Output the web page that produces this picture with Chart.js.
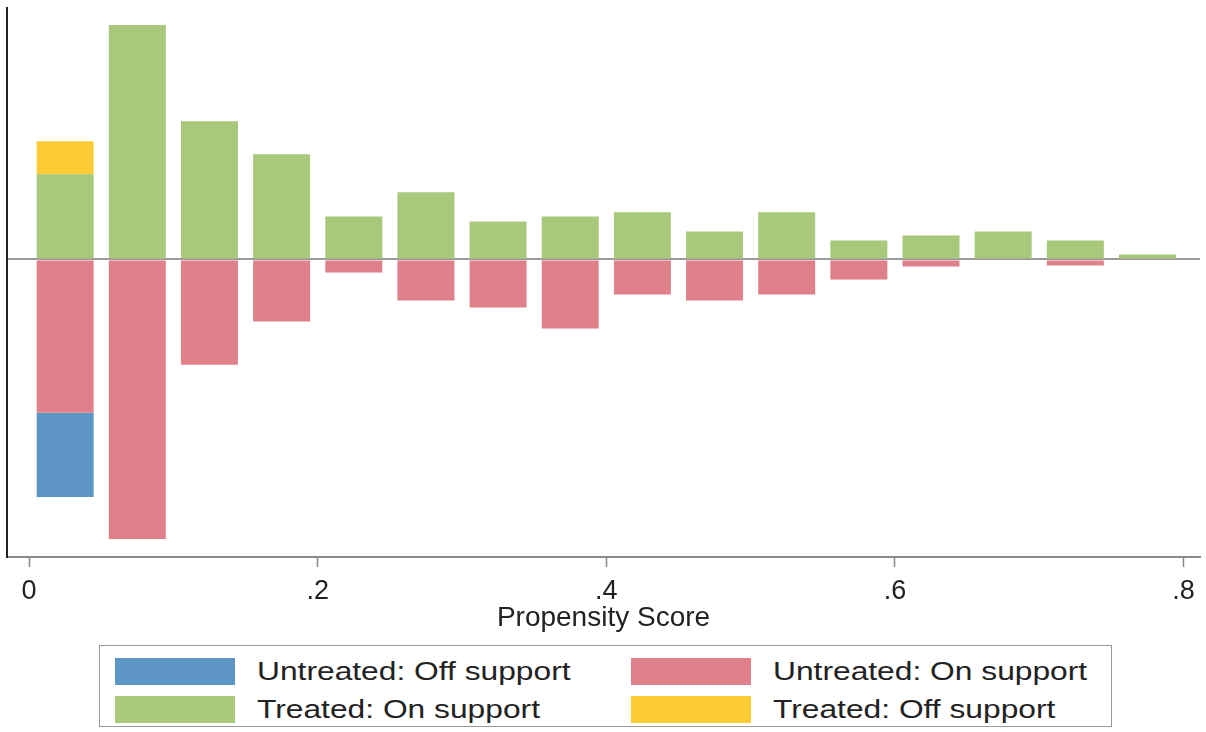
<!DOCTYPE html>
<html>
<head>
<meta charset="utf-8">
<script src="https://cdn.jsdelivr.net/npm/chart.js@4.4.1/dist/chart.umd.min.js"></script>
<style>
  body { margin: 0; background: #fff; font-family: "Liberation Sans", Arial, sans-serif; }
  #wrap { position: relative; width: 1206px; height: 732px; }
  #chartBox { position: absolute; left: 0; top: 0; width: 1206px; height: 648px; }
  #legend { position: absolute; left: 99px; top: 645px; width: 1013px; height: 82px; border: 1px solid #999; box-sizing: border-box; background: #fff; }
  .item { position: absolute; height: 27px; }
  .sw { position: absolute; left: 0; top: 0; width: 120px; height: 27px; }
  .lab { position: absolute; left: 142px; top: -1px; font-size: 25px; line-height: 29px; color: #222; white-space: nowrap; transform: scaleX(1.27); transform-origin: left center; }
</style>
</head>
<body>
<div id="wrap">
  <div id="chartBox"><canvas id="chart"></canvas></div>
  <div id="legend"></div>
</div>
<script>
// bin centres of the propensity score histogram
const binCenters = [0.025, 0.075, 0.125, 0.175, 0.225, 0.275, 0.325, 0.375, 0.425, 0.475, 0.525, 0.575, 0.625, 0.675, 0.725, 0.775];

// heights (arbitrary frequency units), untreated drawn below zero
const untreatedOn  = [153, 279, 105, 62, 13, 41, 48, 69, 35, 41, 35, 20, 7, 1, 6, 0];
const untreatedOff = [84, 0, 0, 0, 0, 0, 0, 0, 0, 0, 0, 0, 0, 0, 0, 0];
const treatedOn    = [85, 234, 138, 105, 43, 67, 38, 43, 47, 28, 47, 19, 24, 28, 19, 5];
const treatedOff   = [33, 0, 0, 0, 0, 0, 0, 0, 0, 0, 0, 0, 0, 0, 0, 0];

const xTicks = [0, 0.2, 0.4, 0.6, 0.8];
const xTickLabels = ['0', '.2', '.4', '.6', '.8'];

const colors = {
    untreatedOff: '#5d95c4',
    untreatedOn: '#e0808a',
    treatedOn: '#a8c97c',
    treatedOff: '#fccb35'
};

const toPoints = (vals, sign) => vals.map((v, i) => ({ x: binCenters[i], y: sign * v }));

const ctx = document.getElementById('chart').getContext('2d');
new Chart(ctx, {
    type: 'bar',
    data: {
        datasets: [
            { label: 'Untreated: On support', data: toPoints(untreatedOn, -1), backgroundColor: colors.untreatedOn },
            { label: 'Untreated: Off support', data: toPoints(untreatedOff, -1), backgroundColor: colors.untreatedOff },
            { label: 'Treated: On support', data: toPoints(treatedOn, 1), backgroundColor: colors.treatedOn },
            { label: 'Treated: Off support', data: toPoints(treatedOff, 1), backgroundColor: colors.treatedOff }
        ]
    },
    options: {
        responsive: true,
        maintainAspectRatio: false,
        animation: false,
        layout: { padding: { left: 7, right: 6, top: 8, bottom: 4 } },
        datasets: { bar: { barPercentage: 0.79, categoryPercentage: 1, borderWidth: 0 } },
        plugins: { legend: { display: false }, tooltip: { enabled: false } },
        scales: {
            x: {
                type: 'linear',
                stacked: true,
                offset: false,
                min: -0.0153,
                max: 0.8114,
                afterBuildTicks: axis => { axis.ticks = xTicks.map(v => ({ value: v })); },
                ticks: {
                    callback: (v) => xTickLabels[xTicks.indexOf(v)] ?? '',
                    font: { family: 'Liberation Sans', size: 27, lineHeight: 1 },
                    color: '#222',
                    padding: 11,
                    maxRotation: 0,
                    autoSkip: false
                },
                grid: { offset: false, drawOnChartArea: false, drawTicks: true, tickLength: 10, color: '#888', tickWidth: 1.5 },
                border: { display: true, color: '#8a8a8a', width: 2 },
                title: {
                    display: true,
                    text: 'Propensity Score',
                    font: { family: 'Liberation Sans', size: 28, lineHeight: 1 },
                    color: '#222',
                    padding: { top: -12, bottom: 12 }
                }
            },
            y: {
                stacked: true,
                min: -297,
                max: 251,
                ticks: { display: false, stepSize: 100 },
                grid: {
                    drawTicks: false,
                    color: c => (c.tick && c.tick.value === 0 ? '#9a9a9a' : 'rgba(0,0,0,0)'),
                    lineWidth: 2
                },
                border: { display: true, color: '#222', width: 2 }
            }
        }
    }
});

// legend: two columns, two rows, boxed under the plot
const legendItems = [
    { text: 'Untreated: Off support', color: colors.untreatedOff, left: 15, top: 12 },
    { text: 'Untreated: On support', color: colors.untreatedOn, left: 531, top: 12 },
    { text: 'Treated: On support', color: colors.treatedOn, left: 15, top: 50 },
    { text: 'Treated: Off support', color: colors.treatedOff, left: 531, top: 50 }
];
const legendEl = document.getElementById('legend');
legendEl.innerHTML = legendItems.map(it => `
    <div class="item" style="left:${it.left}px; top:${it.top}px;">
        <div class="sw" style="background:${it.color}"></div>
        <div class="lab">${it.text}</div>
    </div>`).join('');
</script>
</body>
</html>
